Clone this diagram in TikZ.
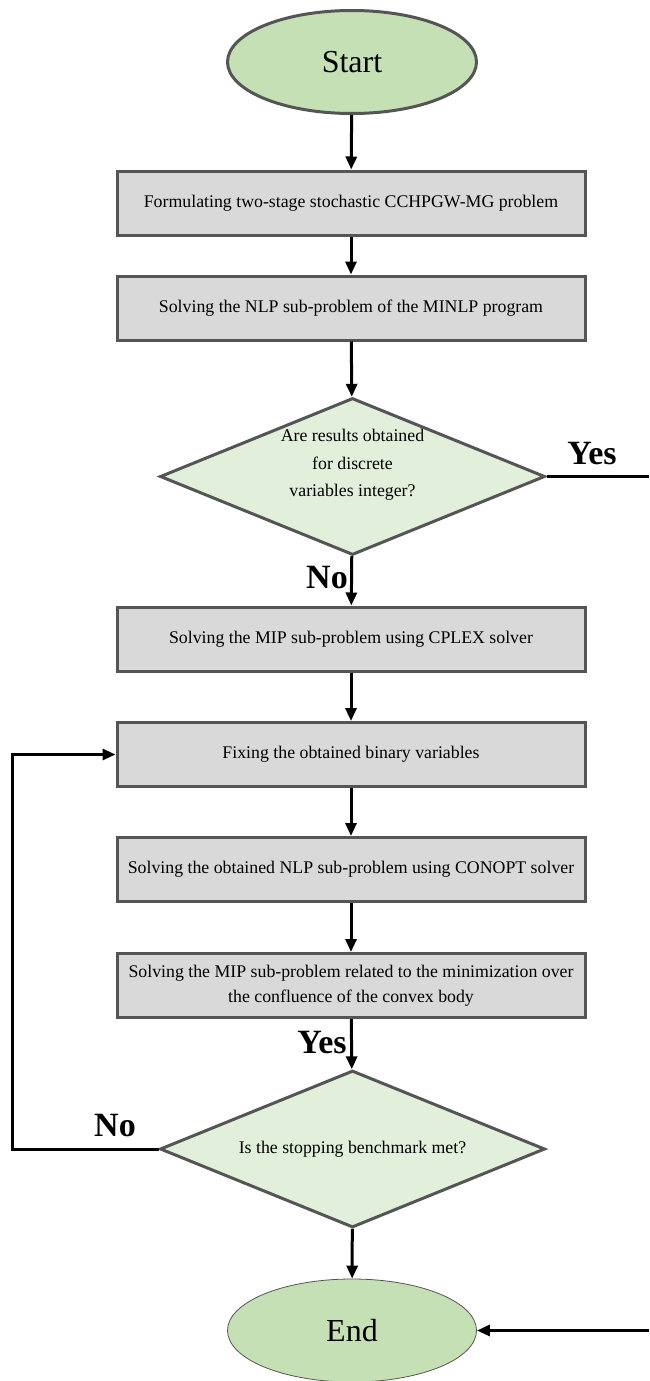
\documentclass[tikz,border=0pt]{standalone}
\usepackage{fontspec}
\setmainfont{Liberation Serif}
\usetikzlibrary{shapes.geometric,arrows.meta}
\definecolor{ellfill}{HTML}{C5E0B4}
\definecolor{diafill}{HTML}{E2EFDA}
\definecolor{boxfill}{HTML}{D9D9D9}
\definecolor{edge}{HTML}{555555}
\tikzset{
  stepbox/.style={draw=edge, line width=3pt, fill=boxfill, rectangle, minimum width=468pt, minimum height=64pt, inner sep=0pt, align=center, font=\fontsize{17.8}{25}\selectfont},
  term/.style={ellipse, fill=ellfill, draw=edge, minimum width=249pt, minimum height=103pt, inner sep=0pt, font=\fontsize{32}{38}\selectfont},
  decision/.style={diamond, fill=diafill, draw=edge, line width=3pt, minimum width=385pt, minimum height=157pt, inner sep=0pt},
  dtext/.style={align=center, inner sep=0pt, font=\fontsize{17.8}{27.5}\selectfont},
  conn/.style={line width=3pt, -{Triangle[length=13pt,width=11pt]}},
  plain/.style={line width=3pt},
  lab/.style={font=\bfseries\fontsize{34}{40}\selectfont, inner sep=0pt}
}
\begin{document}
\begin{tikzpicture}[x=1pt,y=-1pt]
\useasboundingbox (0,0) rectangle (649,1381);
\node[term, line width=3pt] (start) at (352,62) {Start};
\node[stepbox] (b1) at (351,203) {Formulating two-stage stochastic CCHPGW-MG problem};
\node[stepbox] (b2) at (351,308) {Solving the NLP sub-problem of the MINLP program};
\node[decision] (d1) at (352.5,476.5) {};
\node[dtext] (d1t) at (352.5,465) {Are results obtained\\for discrete\\variables integer?};
\node[stepbox] (b3) at (351,639) {Solving the MIP sub-problem using CPLEX solver};
\node[stepbox] (b4) at (351,754.5) {Fixing the obtained binary variables};
\node[stepbox] (b5) at (351,869.5) {Solving the obtained NLP sub-problem using CONOPT solver};
\node[stepbox] (b6) at (351,985.5) {Solving the MIP sub-problem related to the minimization over\\the confluence of the convex body};
\node[decision] (d2) at (352.5,1149) {};
\node[dtext] (d2t) at (352.5,1149) {Is the stopping benchmark met?};
\node[term, line width=0.8pt] (end) at (352,1330.5) {End};
\coordinate (yesout) at (649,476.5);
\coordinate (endin) at (649,1330.5);
\coordinate (lx) at (12,0);
\draw[conn] (start) -- (b1);
\draw[conn] (b1) -- (b2);
\draw[conn] (b2) -- (d1);
\draw[plain] (d1.east) -- (yesout);
\draw[conn] (d1) -- (b3);
\draw[conn] (b3) -- (b4);
\draw[conn] (b4) -- (b5);
\draw[conn] (b5) -- (b6);
\draw[conn] (b6) -- (d2);
\draw[conn] (d2) -- (end);
\draw[conn] (d2.west) -| (lx |- b4.west) -- (b4.west);
\draw[conn] (endin) -- (end.east);
\node[lab] (yes1) at (592,454) {Yes};
\node[lab] (no1) at (327,578) {No};
\node[lab] (yes2) at (322,1043) {Yes};
\node[lab] (no2) at (115,1126) {No};
\end{tikzpicture}
\end{document}
